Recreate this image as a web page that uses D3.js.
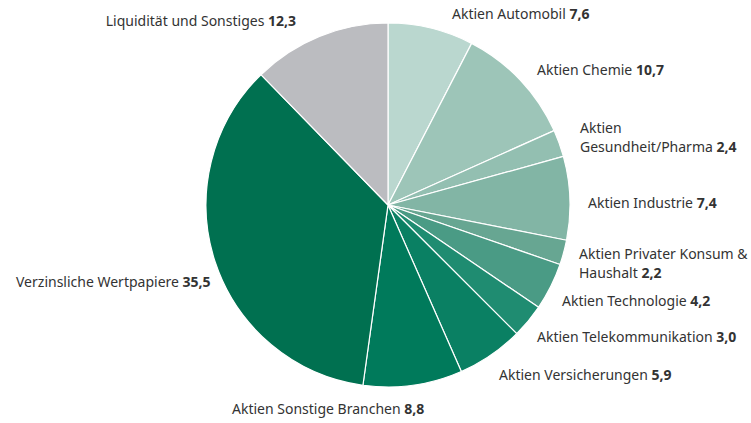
<!doctype HTML>
<html>
<head>
    <style>
        body { margin: 0; background: #fff; }
        .label { font-family: "Noto Sans", sans-serif; font-size: 14px; fill: #333333; }
        .label .val { font-weight: bold; }
    </style>
    <script src="https://d3js.org/d3.v7.min.js"></script>
</head>
<body>
<div id="pie"></div>
<script>

    // data, clockwise from 12 o'clock
    var categories = ["Aktien Automobil", "Aktien Chemie", "Aktien Gesundheit/Pharma", "Aktien Industrie",
        "Aktien Privater Konsum & Haushalt", "Aktien Technologie", "Aktien Telekommunikation",
        "Aktien Versicherungen", "Aktien Sonstige Branchen", "Verzinsliche Wertpapiere", "Liquidität und Sonstiges"];
    var values = [7.6, 10.7, 2.4, 7.4, 2.2, 4.2, 3.0, 5.9, 8.8, 35.5, 12.3];
    var valueLabels = ["7,6", "10,7", "2,4", "7,4", "2,2", "4,2", "3,0", "5,9", "8,8", "35,5", "12,3"];
    // label text split into lines (last line gets the value)
    var labelLines = [["Aktien Automobil"], ["Aktien Chemie"], ["Aktien", "Gesundheit/Pharma"], ["Aktien Industrie"],
        ["Aktien Privater Konsum &", "Haushalt"], ["Aktien Technologie"], ["Aktien Telekommunikation"],
        ["Aktien Versicherungen"], ["Aktien Sonstige Branchen"], ["Verzinsliche Wertpapiere"], ["Liquidität und Sonstiges"]];
    var colors = ["#bad7cf", "#9dc5b8", "#93bfb1", "#82b5a5", "#67a692", "#4a9b85", "#1f8c71",
        "#0a8063", "#007a5b", "#007050", "#bbbcc0"];

    // layout
    var canvasWidth = 751;
    var canvasHeight = 423;
    var cx = 388, cy = 205, radius = 182;
    // label anchor points (x, first baseline, text-anchor)
    var labelPos = [
        [452, 19, "start"], [537, 75, "start"], [580, 133, "start"], [588, 208, "start"],
        [579, 259, "start"], [562, 306, "start"], [537, 342, "start"], [499, 380, "start"],
        [232, 414, "start"], [16, 287, "start"], [296, 26, "end"]
    ];

    var svg = d3.select("#pie").append("svg")
        .attr("width", canvasWidth)
        .attr("height", canvasHeight);

    var pie = d3.pie().sort(null).value(function(d){return d;});
    var arc = d3.arc().innerRadius(0).outerRadius(radius);

    var g = svg.append("g")
        .attr("transform", "translate(" + cx + "," + cy + ")");

    g.selectAll("path")
        .data(pie(values))
        .join("path")
        .attr("d", arc)
        .attr("fill", function(d, i){return colors[i];})
        .attr("stroke", "#ffffff")
        .attr("stroke-width", 1.2)
        .attr("stroke-linejoin", "round");

    // labels
    categories.forEach(function(c, i){
        var lines = labelLines[i];
        var t = svg.append("text")
            .attr("class", "label")
            .attr("x", labelPos[i][0])
            .attr("y", labelPos[i][1])
            .attr("text-anchor", labelPos[i][2]);
        lines.forEach(function(line, j){
            var ts = t.append("tspan")
                .attr("x", labelPos[i][0])
                .attr("dy", j === 0 ? 0 : 19)
                .text(line + (j === lines.length - 1 ? " " : ""));
            if (j === lines.length - 1) {
                t.append("tspan").attr("class", "val").text(valueLabels[i]);
            }
        });
    });

</script>
</body>
</html>
